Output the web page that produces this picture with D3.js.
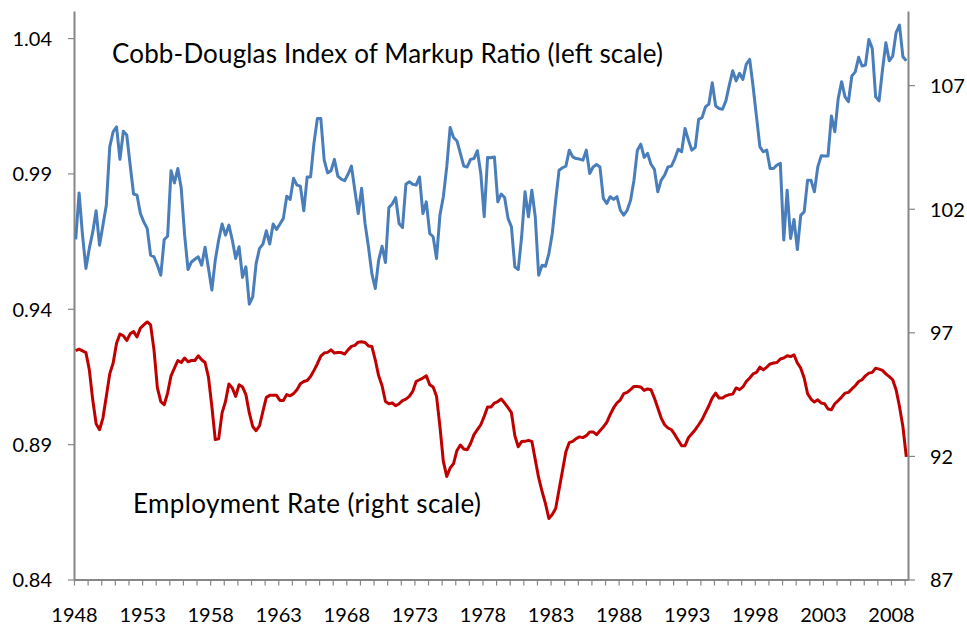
<!DOCTYPE html>
<html>
<head>
<meta charset="utf-8">
<script src="https://cdn.jsdelivr.net/npm/d3@7"></script>
<style>
  body { margin: 0; background: #fff; }
  text { font-family: Lato, "Open Sans", sans-serif; fill: #000; }
</style>
</head>
<body>
<div id="chart"></div>
<script>
// quarterly data, 1948Q1 .. 2009Q1
const startYear = 1948;

const markupRatio = [
  0.9656, 0.9828, 0.9672, 0.9549, 0.9623, 0.9683, 0.9762, 0.9635,
  0.9709, 0.9783, 0.9998, 1.0054, 1.0072, 0.9952, 1.0056, 1.0042,
  0.9931, 0.9824, 0.9820, 0.9752, 0.9721, 0.9697, 0.9598, 0.9592,
  0.9561, 0.9524, 0.9656, 0.9668, 0.9910, 0.9865, 0.9918, 0.9845,
  0.9672, 0.9545, 0.9573, 0.9583, 0.9592, 0.9561, 0.9627, 0.9550,
  0.9469, 0.9580, 0.9654, 0.9713, 0.9672, 0.9709, 0.9654, 0.9586,
  0.9629, 0.9516, 0.9555, 0.9417, 0.9444, 0.9567, 0.9623, 0.9639,
  0.9688, 0.9639, 0.9713, 0.9693, 0.9713, 0.9734, 0.9816, 0.9804,
  0.9882, 0.9857, 0.9853, 0.9762, 0.9887, 0.9887, 1.0013, 1.0103,
  1.0103, 0.9949, 0.9902, 0.9910, 0.9952, 0.9890, 0.9879, 0.9873,
  0.9897, 0.9927, 0.9838, 0.9752, 0.9845, 0.9715, 0.9629, 0.9530,
  0.9475, 0.9580, 0.9631, 0.9571, 0.9774, 0.9787, 0.9811, 0.9715,
  0.9700, 0.9860, 0.9869, 0.9860, 0.9857, 0.9887, 0.9752, 0.9795,
  0.9678, 0.9666, 0.9586, 0.9746, 0.9814, 0.9924, 1.0070, 1.0033,
  1.0020, 0.9974, 0.9927, 0.9924, 0.9952, 0.9955, 0.9984, 0.9900,
  0.9740, 0.9959, 0.9958, 0.9961, 0.9795, 0.9824, 0.9811, 0.9734,
  0.9703, 0.9555, 0.9545, 0.9666, 0.9832, 0.9740, 0.9838, 0.9740,
  0.9524, 0.9561, 0.9557, 0.9604, 0.9678, 0.9801, 0.9912, 0.9921,
  0.9927, 0.9986, 0.9961, 0.9955, 0.9953, 0.9949, 0.9986, 0.9900,
  0.9924, 0.9933, 0.9924, 0.9808, 0.9789, 0.9814, 0.9804, 0.9814,
  0.9764, 0.9746, 0.9764, 0.9801, 0.9875, 0.9986, 1.0008, 0.9959,
  0.9974, 0.9934, 0.9915, 0.9832, 0.9875, 0.9894, 0.9924, 0.9927,
  0.9955, 0.9989, 0.9980, 1.0066, 1.0023, 0.9986, 0.9996, 1.0100,
  1.0106, 1.0146, 1.0156, 1.0235, 1.0149, 1.0140, 1.0137, 1.0168,
  1.0226, 1.0279, 1.0242, 1.0270, 1.0247, 1.0304, 1.0321, 1.0220,
  1.0109, 0.9998, 0.9980, 0.9986, 0.9918, 0.9918, 0.9931, 0.9937,
  0.9654, 0.9838, 0.9660, 0.9730, 0.9619, 0.9746, 0.9758, 0.9875,
  0.9875, 0.9832, 0.9924, 0.9965, 0.9964, 0.9964, 1.0112, 1.0054,
  1.0177, 1.0239, 1.0183, 1.0165, 1.0260, 1.0275, 1.0329, 1.0297,
  1.0300, 1.0395, 1.0362, 1.0183, 1.0168, 1.0282, 1.0383, 1.0316,
  1.0333, 1.0420, 1.0448, 1.0331, 1.0316
];

const employmentRate = [
  96.26, 96.32, 96.25, 96.18, 95.49, 94.27, 93.30, 93.06,
  93.53, 94.41, 95.32, 95.76, 96.56, 96.93, 96.86, 96.67,
  96.94, 97.03, 96.81, 97.17, 97.30, 97.42, 97.30, 96.29,
  94.75, 94.20, 94.07, 94.54, 95.24, 95.55, 95.86, 95.78,
  95.96, 95.81, 95.86, 95.86, 96.05, 95.89, 95.78, 95.19,
  94.00, 92.66, 92.69, 93.74, 94.20, 94.91, 94.75, 94.41,
  94.88, 94.79, 94.48, 93.74, 93.19, 93.02, 93.22, 93.80,
  94.37, 94.45, 94.45, 94.45, 94.24, 94.24, 94.48, 94.43,
  94.52, 94.68, 94.92, 95.01, 95.05, 95.21, 95.46, 95.73,
  96.04, 96.16, 96.19, 96.29, 96.16, 96.18, 96.18, 96.12,
  96.29, 96.43, 96.47, 96.60, 96.62, 96.59, 96.45, 96.43,
  95.89, 95.24, 94.84, 94.20, 94.11, 94.14, 94.03, 94.11,
  94.24, 94.30, 94.41, 94.61, 95.01, 95.08, 95.15, 95.24,
  94.88, 94.79, 94.41, 93.19, 91.78, 91.17, 91.51, 91.69,
  92.22, 92.44, 92.28, 92.25, 92.50, 92.86, 93.06, 93.26,
  93.60, 93.98, 93.98, 94.14, 94.20, 94.30, 94.14, 93.95,
  93.75, 92.82, 92.37, 92.58, 92.59, 92.63, 92.59, 91.85,
  91.12, 90.56, 90.07, 89.47, 89.63, 89.87, 90.64, 91.40,
  92.17, 92.54, 92.59, 92.70, 92.77, 92.74, 92.82, 92.97,
  92.97, 92.86, 93.02, 93.17, 93.36, 93.67, 93.94, 94.14,
  94.27, 94.52, 94.57, 94.68, 94.81, 94.81, 94.79, 94.65,
  94.71, 94.68, 94.34, 93.94, 93.53, 93.26, 93.13, 93.06,
  92.86, 92.63, 92.41, 92.41, 92.74, 92.90, 93.06, 93.26,
  93.47, 93.75, 94.03, 94.35, 94.54, 94.34, 94.34, 94.43,
  94.48, 94.50, 94.75, 94.68, 94.79, 95.01, 95.15, 95.32,
  95.38, 95.59, 95.48, 95.59, 95.72, 95.76, 95.78, 95.92,
  95.96, 96.05, 96.02, 96.09, 95.76, 95.55, 95.15, 94.52,
  94.30, 94.18, 94.27, 94.14, 94.11, 93.90, 93.87, 94.11,
  94.24, 94.38, 94.54, 94.57, 94.71, 94.84, 95.01, 95.08,
  95.24, 95.35, 95.38, 95.55, 95.51, 95.46, 95.32, 95.21,
  95.08, 94.68, 94.00, 93.19, 91.96
];

const leftTicks = [0.84, 0.89, 0.94, 0.99, 1.04];
const rightTicks = [87, 92, 97, 102, 107];
const yearLabels = [1948, 1953, 1958, 1963, 1968, 1973, 1978, 1983, 1988, 1993, 1998, 2003, 2008];

const width = 967;
const height = 625;
const plot = { left: 74, right: 908, top: 11, bottom: 579.5 };
const axisColor = "#868686";

const svg = d3.select("#chart")
  .append("svg")
  .attr("width", width)
  .attr("height", height);

const n = markupRatio.length;

const x = d3.scaleLinear().domain([0, n]).range([plot.left, plot.right]);
const yLeft = d3.scaleLinear().domain([0.84, 1.05]).range([plot.bottom, plot.top]);
const yRight = d3.scaleLinear().domain([87, 110]).range([plot.bottom, plot.top]);

// axes
const leftAxis = d3.axisLeft(yLeft)
  .tickValues(leftTicks)
  .tickFormat(d3.format(".2f"))
  .tickSize(6)
  .tickSizeOuter(0)
  .tickPadding(16);

const rightAxis = d3.axisRight(yRight)
  .tickValues(rightTicks)
  .tickFormat(d3.format("d"))
  .tickSize(7)
  .tickSizeOuter(0)
  .tickPadding(15);

const bottomAxis = d3.axisBottom(x)
  .tickValues(d3.range(0, n, 4))
  .tickFormat(d => yearLabels.includes(startYear + d / 4) ? startYear + d / 4 : "")
  .tickSize(6)
  .tickSizeOuter(0)
  .tickPadding(22);

const gLeft = svg.append("g")
  .attr("transform", `translate(${plot.left},0)`)
  .call(leftAxis);

const gRight = svg.append("g")
  .attr("transform", `translate(${plot.right},0)`)
  .call(rightAxis);

const gBottom = svg.append("g")
  .attr("transform", `translate(0,${plot.bottom})`)
  .call(bottomAxis);

[gLeft, gRight, gBottom].forEach(g => {
  g.select(".domain").attr("stroke", axisColor).attr("stroke-width", 2);
  g.selectAll(".tick line").attr("stroke", axisColor).attr("stroke-width", 1.2);
  g.selectAll("text")
    .attr("fill", "#000")
    .style("font-size", "20px")
    .style("font-family", "Lato, 'Open Sans', sans-serif");
});
gLeft.selectAll("text").attr("dy", "0.37em");
gRight.selectAll("text").attr("dy", "0.37em");

// lines
const markupLine = d3.line()
  .x((d, i) => x(i + 0.5))
  .y(d => yLeft(d));

const employmentLine = d3.line()
  .x((d, i) => x(i + 0.5))
  .y(d => yRight(d));

svg.append("path")
  .datum(markupRatio)
  .attr("fill", "none")
  .attr("stroke", "#4A7EBB")
  .attr("stroke-width", 3)
  .attr("stroke-linejoin", "round")
  .attr("d", markupLine);

svg.append("path")
  .datum(employmentRate)
  .attr("fill", "none")
  .attr("stroke", "#C00000")
  .attr("stroke-width", 3)
  .attr("stroke-linejoin", "round")
  .attr("d", employmentLine);

// series labels
svg.append("text")
  .attr("x", 112)
  .attr("y", 62.5)
  .attr("textLength", 551)
  .attr("lengthAdjust", "spacing")
  .style("font-size", "26px")
  .text("Cobb-Douglas Index of Markup Ratio (left scale)");

svg.append("text")
  .attr("x", 133)
  .attr("y", 512.5)
  .attr("textLength", 348)
  .attr("lengthAdjust", "spacing")
  .style("font-size", "26px")
  .text("Employment Rate (right scale)");
</script>
</body>
</html>
